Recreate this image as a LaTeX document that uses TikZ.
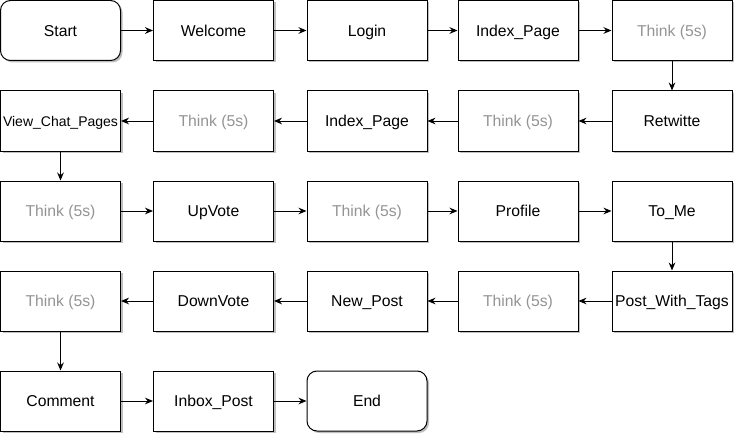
\documentclass[tikz,border=0pt]{standalone}
\usepackage{fontspec}
\setmainfont{Liberation Sans}
\usetikzlibrary{arrows.meta,shadows}
\begin{document}
\begin{tikzpicture}[x=0.75pt,y=-0.75pt,
  box/.style={draw=black,line width=0.75pt,fill=white,minimum width=90pt,minimum height=45pt,inner sep=0pt,
    font=\fontsize{11.8}{13}\selectfont,text height=9.7pt,text depth=0.9pt,
    drop shadow={shadow xshift=1.5pt,shadow yshift=-1.5pt,fill=black,opacity=0.25}},
  startend/.style={box,rounded corners=7.5pt},
  think/.style={box,text=black!42},
  conn/.style={draw=black,line width=0.75pt,-{Stealth[length=6pt,width=5pt]}}]
\useasboundingbox (0,0) rectangle (735,435);
\node[startend] (start) at (60.5,30.5) {Start};
\node[box] (welcome) at (213.5,30.5) {Welcome};
\node[box] (login) at (367,30.5) {Login};
\node[box] (index1) at (518,30.5) {Index\_Page};
\node[think] (think1) at (672,30.5) {Think (5s)};

\node[box] (retwitte) at (672,121) {Retwitte};
\node[think] (think2) at (518,121) {Think (5s)};
\node[box] (index2) at (367,121) {Index\_Page};
\node[think] (think3) at (213.5,121) {Think (5s)};
\node[box,font=\fontsize{10.5}{12}\selectfont] (viewchat) at (60.5,121) {View\_Chat\_Pages};

\node[think] (think4) at (60.5,211) {Think (5s)};
\node[box] (upvote) at (213.5,211) {UpVote};
\node[think] (think5) at (367,211) {Think (5s)};
\node[box] (profile) at (518,211) {Profile};
\node[box] (tome) at (672,211) {To\_Me};

\node[box] (postwt) at (672,301) {Post\_With\_Tags};
\node[think] (think6) at (518,301) {Think (5s)};
\node[box] (newpost) at (367,301) {New\_Post};
\node[box] (downvote) at (213.5,301) {DownVote};
\node[think] (think7) at (60.5,301) {Think (5s)};

\node[box] (comment) at (60.5,401) {Comment};
\node[box] (inbox) at (213.5,401) {Inbox\_Post};
\node[startend] (end) at (367,401) {End};

\draw[conn] (start) -- (welcome);
\draw[conn] (welcome) -- (login);
\draw[conn] (login) -- (index1);
\draw[conn] (index1) -- (think1);
\draw[conn] (think1) -- (retwitte);
\draw[conn] (retwitte) -- (think2);
\draw[conn] (think2) -- (index2);
\draw[conn] (index2) -- (think3);
\draw[conn] (think3) -- (viewchat);
\draw[conn] (viewchat) -- (think4);
\draw[conn] (think4) -- (upvote);
\draw[conn] (upvote) -- (think5);
\draw[conn] (think5) -- (profile);
\draw[conn] (profile) -- (tome);
\draw[conn] (tome) -- (postwt);
\draw[conn] (postwt) -- (think6);
\draw[conn] (think6) -- (newpost);
\draw[conn] (newpost) -- (downvote);
\draw[conn] (downvote) -- (think7);
\draw[conn] (think7) -- (comment);
\draw[conn] (comment) -- (inbox);
\draw[conn] (inbox) -- (end);
\end{tikzpicture}
\end{document}
